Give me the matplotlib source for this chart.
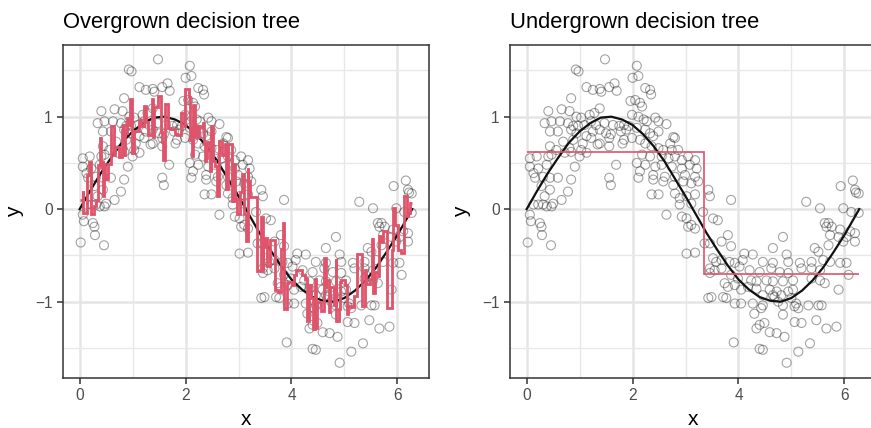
import numpy as np
import matplotlib.pyplot as plt
from matplotlib.ticker import MultipleLocator

plt.rcParams['font.family'] = ['Liberation Sans', 'DejaVu Sans']

x_obs = [1.48, 0.93, 0.98, 1.13, 1.25, 1.38, 1.41, 1.56, 1.66, 1.70,
         0.84, 0.41, 0.66, 0.81, 0.94, 1.03, 1.19, 1.28, 1.38, 0.34,
         0.47, 0.63, 0.78, 0.88, 0.97, 1.09, 1.22, 1.31, 1.47, 1.63,
         1.75, 1.84, 0.44, 0.59, 0.84, 0.94, 1.13, 1.25, 1.38, 1.50,
         1.59, 1.78, 1.88, 0.69, 0.88, 1.06, 1.22, 1.38, 1.56, 1.84,
         0.44, 0.56, 0.81, 1.03, 1.34, 1.56, 1.81, 0.06, 0.19, 0.41,
         0.47, 0.72, 0.84, 1.00, 1.13, 1.69, 0.06, 0.22, 0.38, 0.91,
         1.56, 1.59, 0.84, 0.78, 0.13, 0.31, 0.16, 0.44, 0.59, 0.28,
         0.44, 0.34, 0.50, 0.66, 0.13, 0.22, 0.31, 0.38, 0.47, 0.06,
         0.08, 0.25, 0.28, 0.29, 0.02, 0.46,
         2.08, 2.00, 2.11, 2.24, 2.33, 2.35, 1.96, 2.05, 2.14, 2.18,
         1.99, 2.11, 2.21, 2.27, 2.43, 2.49, 2.64, 1.93, 2.08, 2.24,
         2.33, 2.39, 2.49, 2.77, 2.80, 2.71, 1.99, 2.14, 2.24, 2.36,
         2.49, 2.58, 2.74, 2.86, 2.18, 2.33, 2.55, 2.68, 2.80, 2.93,
         3.05, 3.18, 2.08, 2.24, 2.43, 2.55, 2.74, 2.93, 3.08, 3.21,
         2.14, 2.39, 2.61, 2.80, 2.99, 3.18, 2.11, 2.39, 2.58, 2.77,
         2.96, 3.11, 3.24, 2.36, 2.49, 2.80, 2.89, 3.02, 3.18, 3.43,
         3.46, 3.86, 2.89, 3.11, 3.33, 2.64, 2.93, 3.02, 3.52, 3.61,
         3.11, 3.18, 3.05, 3.36, 3.46, 3.68, 3.80, 3.86, 3.02, 3.18,
         3.52, 3.58, 3.68, 3.83, 3.93, 4.02, 3.46, 3.55, 3.68, 3.46,
         3.86, 3.99, 3.74, 3.80, 3.93, 4.05, 3.43, 3.49, 3.71, 3.77,
         3.93, 4.05, 3.91,
         6.16, 5.93, 6.20, 6.27, 6.22, 5.28, 5.54, 5.98, 6.13, 6.27,
         5.63, 5.70, 5.76, 5.66, 5.92, 6.11, 6.20, 6.04, 4.84, 5.73,
         5.89, 5.98, 6.20, 4.65, 5.44, 5.51, 5.70, 4.11, 4.27, 4.08,
         4.46, 4.65, 4.91, 4.94, 5.16, 5.38, 5.60, 5.73, 5.92, 6.04,
         6.08, 4.21, 4.40, 4.62, 4.78, 4.94, 5.19, 5.38, 5.54, 4.24,
         4.34, 4.53, 4.65, 4.84, 5.03, 5.38, 5.54, 5.63, 5.89, 4.18,
         4.34, 4.59, 4.72, 4.94, 5.03, 4.46, 4.65, 4.68, 4.81, 5.00,
         4.27, 4.46, 4.75, 4.84, 5.09, 5.32, 5.51, 5.57, 4.30, 4.43,
         4.84, 5.06, 5.13, 4.40, 4.49, 4.34, 4.59, 4.72, 4.87, 5.06,
         5.19, 5.47, 5.66, 5.85, 4.40, 4.46, 5.13, 5.35, 4.91]
y_obs = [1.62, 1.51, 1.49, 1.32, 1.29, 1.30, 1.27, 1.32, 1.36, 1.28,
         1.20, 1.06, 1.08, 1.06, 1.00, 0.99, 1.02, 1.04, 1.09, 0.93,
         0.95, 0.95, 0.93, 0.90, 0.90, 0.91, 0.95, 0.91, 0.93, 0.91,
         0.90, 0.91, 0.84, 0.84, 0.86, 0.82, 0.79, 0.84, 0.86, 0.82,
         0.81, 0.84, 0.86, 0.73, 0.75, 0.71, 0.77, 0.71, 0.77, 0.75,
         0.68, 0.64, 0.66, 0.64, 0.70, 0.68, 0.71, 0.55, 0.57, 0.57,
         0.59, 0.61, 0.62, 0.57, 0.61, 0.48, 0.46, 0.44, 0.48, 0.46,
         0.34, 0.26, 0.32, 0.19, 0.39, 0.35, 0.34, 0.34, 0.34, 0.25,
         0.21, 0.14, 0.06, 0.10, 0.05, 0.05, 0.05, 0.03, 0.03, -0.06,
         -0.13, -0.15, -0.19, -0.28, -0.36, -0.39,
         1.55, 1.42, 1.44, 1.31, 1.29, 1.24, 1.17, 1.18, 1.15, 1.11,
         1.02, 1.00, 0.97, 0.95, 0.99, 0.95, 0.92, 0.90, 0.88, 0.86,
         0.82, 0.79, 0.84, 0.78, 0.77, 0.71, 0.77, 0.75, 0.71, 0.68,
         0.66, 0.64, 0.64, 0.64, 0.59, 0.57, 0.57, 0.55, 0.57, 0.53,
         0.57, 0.53, 0.50, 0.48, 0.46, 0.48, 0.46, 0.44, 0.48, 0.44,
         0.41, 0.37, 0.35, 0.35, 0.37, 0.35, 0.34, 0.32, 0.30, 0.26,
         0.30, 0.28, 0.30, 0.16, 0.16, 0.17, 0.12, 0.14, 0.16, 0.21,
         0.14, 0.10, 0.05, 0.06, -0.03, -0.06, -0.08, -0.10, -0.10, -0.12,
         -0.17, -0.21, -0.19, -0.37, -0.37, -0.35, -0.28, -0.40, -0.48, -0.47,
         -0.53, -0.57, -0.55, -0.57, -0.58, -0.62, -0.64, -0.66, -0.64, -0.69,
         -0.71, -0.75, -0.80, -0.84, -0.82, -0.87, -0.96, -0.95, -0.95, -0.96,
         -1.02, -1.02, -1.44,
         0.31, 0.25, 0.21, 0.17, 0.18, 0.08, 0.01, 0.01, -0.03, -0.04,
         -0.15, -0.15, -0.19, -0.19, -0.22, -0.24, -0.26, -0.30, -0.30, -0.28,
         -0.30, -0.35, -0.35, -0.42, -0.42, -0.46, -0.39, -0.48, -0.49, -0.55,
         -0.57, -0.58, -0.49, -0.57, -0.58, -0.57, -0.55, -0.57, -0.58, -0.58,
         -0.71, -0.66, -0.68, -0.64, -0.68, -0.69, -0.64, -0.64, -0.66, -0.77,
         -0.78, -0.77, -0.78, -0.78, -0.77, -0.75, -0.77, -0.80, -0.87, -0.84,
         -0.86, -0.87, -0.89, -0.89, -0.87, -0.93, -0.93, -0.95, -0.93, -0.96,
         -1.02, -1.04, -1.00, -1.04, -1.02, -1.04, -1.04, -1.04, -1.13, -1.07,
         -1.14, -1.05, -1.07, -1.25, -1.23, -1.29, -1.33, -1.34, -1.38, -1.22,
         -1.23, -1.20, -1.29, -1.27, -1.51, -1.52, -1.54, -1.45, -1.66]

# true curve (sin), read at steps of 0.2
curve_x = [0.0, 0.2, 0.4, 0.6, 0.8, 1.0, 1.2, 1.4, 1.6, 1.8, 2.0, 2.2,
           2.4, 2.6, 2.8, 3.0, 3.2, 3.4, 3.6, 3.8, 4.0, 4.2, 4.4, 4.6,
           4.8, 5.0, 5.2, 5.4, 5.6, 5.8, 6.0, 6.2, 6.28]
curve_y = [0.00, 0.20, 0.39, 0.56, 0.72, 0.84, 0.93, 0.99, 1.00, 0.97,
           0.91, 0.81, 0.68, 0.52, 0.33, 0.14, -0.06, -0.26, -0.44, -0.61,
           -0.76, -0.87, -0.95, -0.99, -1.00, -0.96, -0.88, -0.77, -0.63,
           -0.46, -0.28, -0.08, 0.00]

# undergrown tree: a single split
under_edges = [0.0, 3.35, 6.28]
under_pred = [0.62, -0.70]

RED = '#DF536B'


def overgrown_fit(x, y, leaf=2):
    # tiny leaves: mean of a couple of neighbouring points
    order = np.argsort(x)
    xs = np.asarray(x)[order]
    ys = np.asarray(y)[order]
    means, edges = [], [0.0]
    for i in range(0, len(xs), leaf):
        means.append(ys[i:i + leaf].mean())
        if i + leaf < len(xs):
            edges.append((xs[i + leaf - 1] + xs[i + leaf]) / 2)
    edges.append(6.28)
    return np.array(means), np.array(edges)


def style(ax, title):
    ax.set_xlim(-0.314, 6.597)
    ax.set_ylim(-1.825, 1.775)
    ax.xaxis.set_major_locator(MultipleLocator(2))
    ax.xaxis.set_minor_locator(MultipleLocator(1))
    ax.yaxis.set_major_locator(MultipleLocator(1))
    ax.yaxis.set_minor_locator(MultipleLocator(0.5))
    ax.grid(which='major', color='#E5E5E5', lw=1.8)
    ax.grid(which='minor', color='#E8E8E8', lw=1.0)
    ax.set_axisbelow(True)
    for s in ax.spines.values():
        s.set_color('#333333')
        s.set_linewidth(1.1)
    ax.tick_params(which='major', length=4.5, width=1.1, color='#333333',
                   labelsize=11.2, labelcolor='#4D4D4D', pad=3)
    ax.tick_params(which='minor', length=0)
    ax.set_xlabel('x', fontsize=15, labelpad=5)
    ax.set_ylabel('y', fontsize=15, labelpad=8)
    ax.set_title(title, loc='left', fontsize=15.8, pad=12)


fig = plt.figure(figsize=(8.71, 4.28), dpi=100)
ax1 = fig.add_axes([63 / 871, 50 / 428, 366 / 871, 333 / 428])
ax2 = fig.add_axes([510 / 871, 50 / 428, 366 / 871, 333 / 428])

over_pred, over_edges = overgrown_fit(x_obs, y_obs)

for ax in (ax1, ax2):
    ax.scatter(x_obs, y_obs, s=42, facecolors='none',
               edgecolors=(0.1, 0.1, 0.1, 0.4), linewidths=0.8, zorder=2)
    ax.plot(curve_x, curve_y, color='#111111', lw=1.6, zorder=3)

ax1.stairs(over_pred, over_edges, baseline=None, color=RED, lw=2.0, zorder=4)
ax2.stairs(under_pred, under_edges, baseline=None, color=RED, lw=1.2, zorder=4)

style(ax1, 'Overgrown decision tree')
style(ax2, 'Undergrown decision tree')

fig.savefig('out.png', dpi=100)
